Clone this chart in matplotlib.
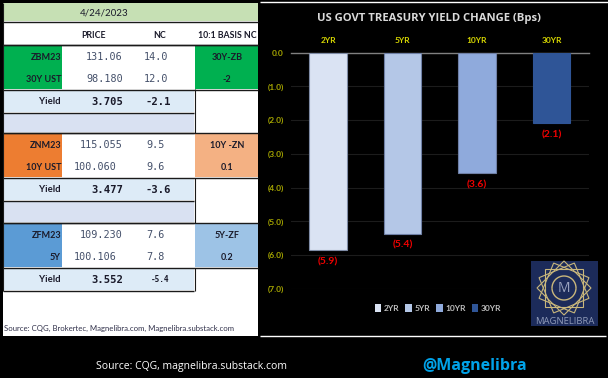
import numpy as np
import matplotlib
matplotlib.use("Agg")
import matplotlib.pyplot as plt
from matplotlib.patches import Rectangle, Polygon, Circle, Patch

plt.rcParams['font.family'] = ['Lato', 'DejaVu Sans']

# chart data
tenors = ['2YR', '5YR', '10YR', '30YR']
changes = [-5.85, -5.36, -3.57, -2.1]
change_labels = ['(5.9)', '(5.4)', '(3.6)', '(2.1)']
bar_colors = ['#DAE3F3', '#B4C7E7', '#8FAADC', '#2F5597']
bar_edges = ['#7F8CA6', '#6F80A6', '#6F80A6', '#2F5597']
y_ticks = [0, -1, -2, -3, -4, -5, -6, -7]
y_labels = ['0.0', '(1.0)', '(2.0)', '(3.0)', '(4.0)', '(5.0)', '(6.0)', '(7.0)']

# table data
date_label = '4/24/2023'
headers = ['PRICE', 'NC', '10:1 BASIS NC']
contracts = ['ZBM23', 'ZNM23', 'ZFM23']
cash_names = ['30Y UST', '10Y UST', '5Y']
fut_price = ['131.06', '115.055', '109.230']
cash_price = ['98.180', '100.060', '100.106']
fut_nc = ['14.0', '9.5', '7.6']
cash_nc = ['12.0', '9.6', '7.8']
yields = ['3.705', '3.477', '3.552']
yield_nc = ['-2.1', '-3.6', '-5.4']
basis_names = ['30Y-ZB', '10Y -ZN', '5Y-ZF']
basis_vals = ['-2', '0.1', '0.2']
label_colors = ['#00B050', '#ED7D31', '#5B9BD5']
basis_colors = ['#00B050', '#F4B183', '#9DC3E6']
block_tops = [45, 133, 223]

W, H = 608, 378
fig = plt.figure(figsize=(W / 100, H / 100), dpi=100, facecolor='black')

# full figure axes in pixels for table and furniture
bg = fig.add_axes([0, 0, 1, 1])
bg.set_xlim(0, W)
bg.set_ylim(H, 0)
bg.axis('off')


def rect(x0, y0, x1, y1, color, z=1):
    bg.add_patch(Rectangle((x0, y0), x1 - x0, y1 - y0, fc=color, ec='none', zorder=z))


def hline(y, x0, x1, color='#1a1a1a', lw=1.0):
    bg.plot([x0, x1], [y, y], color=color, lw=lw, zorder=3, solid_capstyle='butt')


def vline(x, y0, y1, color='#1a1a1a', lw=1.0):
    bg.plot([x, x], [y0, y1], color=color, lw=lw, zorder=3, solid_capstyle='butt')


label_font = ['Lato', 'DejaVu Sans']
num_font = ['DejaVu Sans Mono']
open_font = ['Open Sans', 'DejaVu Sans']
dark = '#1a1a2a'
num_col = '#44506a'

rect(3, 3, 258, 336, 'white')
rect(3, 3, 258, 21, '#C6E0B4')
hline(21.5, 3, 258)
bg.text(104, 13, date_label, ha='center', va='center', fontsize=7, color=dark,
        family=label_font)
for x, s in zip([94, 160, 227], headers):
    bg.text(x, 35, s, ha='center', va='center', fontsize=6.3, color=dark, weight='bold',
            family=label_font)
hline(44.5, 3, 258)

for i, top in enumerate(block_tops):
    bot = top + 44
    rect(3, top, 62, bot, label_colors[i])
    rect(195, top, 258, bot, basis_colors[i])
    hline(top - 0.5, 3, 258)
    hline(bot + 0.5, 3, 258)
    y1, y2 = top + 12, top + 34
    bg.text(61, y1, contracts[i], ha='right', va='center', fontsize=6.5, weight='bold',
            color=dark, family=label_font)
    bg.text(61, y2, cash_names[i], ha='right', va='center', fontsize=6.5, weight='bold',
            color=dark, family=label_font)
    # 30Y prices line up right, the other two rows sit a little left
    px2 = 123 if i == 0 else 117
    nc_x = 168 if i == 0 else 165
    bg.text(123, y1, fut_price[i], ha='right', va='center', fontsize=7.3, color=num_col,
            family=num_font)
    bg.text(px2, y2, cash_price[i], ha='right', va='center', fontsize=7.3, color=num_col,
            family=num_font)
    bg.text(nc_x, y1, fut_nc[i], ha='right', va='center', fontsize=7.3, color=num_col,
            family=num_font)
    bg.text(nc_x, y2, cash_nc[i], ha='right', va='center', fontsize=7.3, color=num_col,
            family=num_font)
    bg.text(227, y1, basis_names[i], ha='center', va='center', fontsize=6.5, color=dark,
            family=label_font, weight='bold')
    bg.text(227, y2, basis_vals[i], ha='center', va='center', fontsize=6.5, color=dark,
            family=label_font, weight='bold')

    # yield row
    ry0, ry1 = bot + 1, bot + 23
    rect(3, ry0, 194, ry1, '#DDEBF7')
    hline(ry1 + 0.5, 3, 194)
    bg.text(61, ry0 + 12, 'Yield', ha='right', va='center', fontsize=6.8, weight='bold',
            color=dark, family=label_font)
    bg.text(123, ry0 + 12, yields[i], ha='right', va='center', fontsize=7.6, weight='bold',
            color=dark, family=num_font)
    small = i == 2
    bg.text(169 if small else 171, ry0 + 12, yield_nc[i], ha='right', va='center',
            fontsize=5.6 if small else 7.6, weight='bold', color=dark, family=num_font)

    # spacer row between blocks
    if i < 2:
        rect(3, ry1 + 1, 194, block_tops[i + 1] - 1, '#D9E1F2')
        hline(block_tops[i + 1] - 0.5, 3, 194)

vline(194.5, 89, 133, lw=0.8)
vline(194.5, 178, 223, lw=0.8)
vline(194.5, 268, 291, lw=0.8)
vline(2.8, 3, 291, lw=0.8)

bg.text(4, 328, 'Source: CQG, Brokertec, Magnelibra.com, Magnelibra.substack.com', ha='left',
        va='center', fontsize=5.6, color='#30304a', family=label_font)

# white rules around the chart
hline(2.2, 260, 608, color='white', lw=1.0)
hline(336, 260, 606, color='white', lw=1.0)

# bar chart
ax = fig.add_axes([290.7 / W, 1 - 289 / H, (589 - 290.7) / W, (289 - 52.5) / H])
ax.patch.set_alpha(0)
x = np.arange(len(tenors))
bars = ax.bar(x, changes, width=0.5, color=bar_colors, edgecolor=bar_edges, linewidth=0.8, zorder=3)
ax.bar_label(bars, labels=change_labels, padding=5, color='#F00000', fontsize=7.5,
             weight='bold', family=label_font)
ax.set_xlim(-0.5, 3.5)
ax.set_ylim(-7, 0)
ax.set_yticks(y_ticks)
ax.set_yticklabels(y_labels, color='#A8A800', fontsize=6, weight='bold', family=label_font)
ax.xaxis.tick_top()
ax.set_xticks(x)
ax.set_xticklabels(tenors, color='#D8D800', fontsize=6, weight='bold', family=label_font)
ax.tick_params(length=0, pad=6)
ax.tick_params(axis='y', pad=5)
ax.grid(axis='y', color='#1c1c1c', lw=0.8, zorder=0)
ax.set_axisbelow(True)
for s in ['left', 'right', 'bottom']:
    ax.spines[s].set_visible(False)
ax.spines['top'].set_color('#808080')
ax.spines['top'].set_linewidth(1.0)

handles = [Patch(fc=c, ec='none', label=t) for c, t in zip(bar_colors, tenors)]
leg = ax.legend(handles=handles, ncol=4, loc='center', frameon=False,
                bbox_to_anchor=((438 - 290.7) / (589 - 290.7), -(308 - 289) / (289 - 52.5)),
                handlelength=0.8, handleheight=1.0, handletextpad=0.3, columnspacing=0.7,
                prop={'family': label_font, 'size': 6, 'weight': 'bold'})
for t in leg.get_texts():
    t.set_color('#BFBFBF')

bg.text(429, 18, 'US GOVT TREASURY YIELD CHANGE (Bps)', ha='center', va='center', fontsize=8.1,
        weight='bold', color='#D9D9D9', family=open_font)

# logo
rect(531, 261, 598, 326, '#1C2B5A', z=2)
gold = '#C9B77C'
cx, cy = 564, 288
for ang in np.arange(0, 90, 22.5):
    r = 27
    pts = [(cx + r * np.cos(np.radians(ang + 45 + k * 90)),
            cy + r * np.sin(np.radians(ang + 45 + k * 90))) for k in range(4)]
    bg.add_patch(Polygon(pts, closed=True, fc='none', ec=gold, lw=0.8, zorder=4))
bg.add_patch(Circle((cx, cy), 12, fc='#1C2B5A', ec=gold, lw=1.0, zorder=5))
bg.text(cx, cy + 0.5, 'M', ha='center', va='center', fontsize=10, color='#9AA3BF', zorder=6,
        family=open_font)
bg.text(564.5, 321.5, 'MAGNELIBRA', ha='center', va='center', fontsize=6.8, color='#8F9AB8', zorder=6,
        family=open_font)

# footer
bg.text(192, 367, 'Source: CQG, magnelibra.substack.com', ha='center', va='center', fontsize=7.5,
        color='white', family=open_font)
bg.text(475, 365.5, '@Magnelibra', ha='center', va='center', fontsize=11.5, weight='bold',
        color='#00A2E8', family=open_font)

fig.savefig('out.png', dpi=100, facecolor='black')
